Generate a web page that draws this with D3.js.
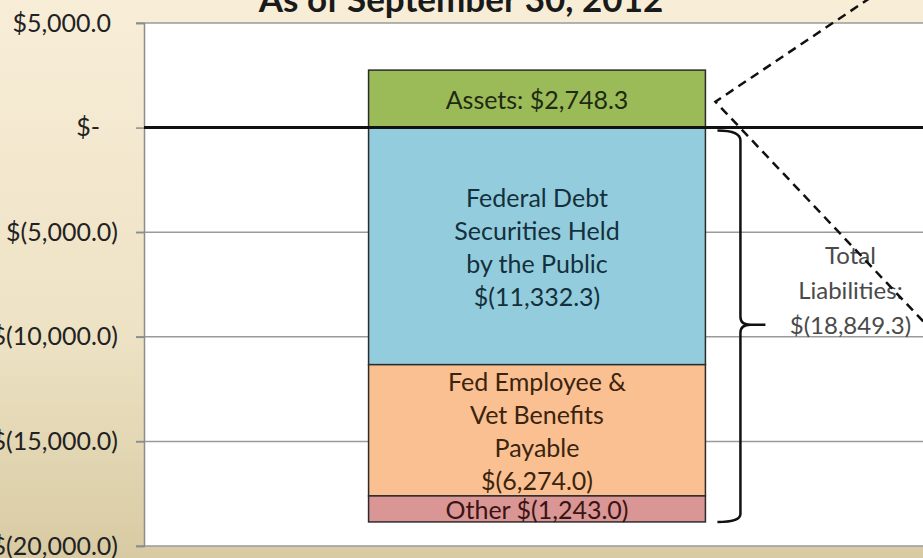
<!DOCTYPE html>
<html lang="en">
  <head>
    <meta charset="UTF-8" />
    <title>Balance Sheet</title>
    <script src="https://d3js.org/d3.v7.min.js"></script>
    <style>
      body {
        margin: 0;
        background-color: #ffffff;
        font-family: "Lato", sans-serif;
      }
    </style>
  </head>
  <body>
    <div id="my_dataviz"></div>
    <script>
      // data (billions of dollars, as of September 30, 2012)
      var segments = ["Assets", "Federal Debt", "Employee & Veteran Benefits", "Other"];
      var values = [2748.3, -11332.3, -6274.0, -1243.0];
      var labels = [
        ["Assets: $2,748.3"],
        ["Federal Debt", "Securities Held", "by the Public", "$(11,332.3)"],
        ["Fed Employee &", "Vet Benefits", "Payable", "$(6,274.0)"],
        ["Other $(1,243.0)"]
      ];
      var colors = ["#9bbb59", "#93cddd", "#fac091", "#d99694"];
      var textColors = ["#1f2a12", "#14303c", "#3a2410", "#3a1414"];
      var yTicks = [5000, 0, -5000, -10000, -15000, -20000];
      var totalLabel = ["Total", "Liabilities:", "$(18,849.3)"];

      var W = 923, H = 558;
      var margin = { top: 23, left: 144, bottom: 12 };

      var svg = d3.select("#my_dataviz").append("svg")
        .attr("width", W).attr("height", H);

      // beige background gradient
      var defs = svg.append("defs");
      var grad = defs.append("linearGradient").attr("id", "bg")
        .attr("x1", 0).attr("y1", 0).attr("x2", 0).attr("y2", 1);
      grad.append("stop").attr("offset", "0%").attr("stop-color", "#f8eed8");
      grad.append("stop").attr("offset", "60%").attr("stop-color", "#ede2c4");
      grad.append("stop").attr("offset", "100%").attr("stop-color", "#d8cba3");
      svg.append("rect").attr("width", W).attr("height", H).attr("fill", "url(#bg)");

      var y = d3.scaleLinear().domain([5000, -20000]).range([margin.top, H - margin.bottom]);
      var x = d3.scaleBand().domain(["FY2012"]).range([margin.left, 930]).padding(0.4);

      // plot area
      svg.append("rect")
        .attr("x", margin.left).attr("y", y(5000))
        .attr("width", W - margin.left + 10).attr("height", y(-20000) - y(5000))
        .attr("fill", "#ffffff");

      // grid lines
      svg.append("g").selectAll("line")
        .data(yTicks)
        .enter().append("line")
        .attr("x1", margin.left - 8).attr("x2", W)
        .attr("y1", function (d) { return y(d); })
        .attr("y2", function (d) { return y(d); })
        .attr("stroke", function (d) { return d === 0 ? "none" : "#9a9a9a"; })
        .attr("stroke-width", 1.5);

      // y axis
      var yAxis = svg.append("g")
        .attr("transform", "translate(" + margin.left + ",0)")
        .call(d3.axisLeft(y).tickValues(yTicks).tickSize(8).tickPadding(18)
          .tickFormat(function (d) {
            if (d === 0) return "$-";
            var s = d3.format(",.1f")(Math.abs(d));
            return d < 0 ? "$(" + s + ")" : "$" + s;
          }));
      yAxis.select(".domain").attr("stroke", "#8c8c8c").attr("stroke-width", 1.5);
      yAxis.selectAll(".tick line").attr("stroke", "#8c8c8c").attr("stroke-width", 1.5);
      yAxis.selectAll(".tick text")
        .attr("font-family", "Lato, sans-serif")
        .attr("font-size", 25)
        .attr("fill", "#222")
        .attr("dx", function (d) { return d === 0 ? -18 : (d > 0 ? -7 : 0); });

      // stacked segments
      var stack = [];
      var pos = 0, neg = 0;
      values.forEach(function (v, i) {
        if (v >= 0) { stack.push({ i: i, y0: pos, y1: pos + v }); pos += v; }
        else { stack.push({ i: i, y0: neg, y1: neg + v }); neg += v; }
      });

      var bars = svg.append("g");
      bars.selectAll("rect")
        .data(stack)
        .enter().append("rect")
        .attr("x", x("FY2012"))
        .attr("width", x.bandwidth())
        .attr("y", function (d) { return y(Math.max(d.y0, d.y1)); })
        .attr("height", function (d) { return Math.abs(y(d.y0) - y(d.y1)); })
        .attr("fill", function (d) { return colors[d.i]; })
        .attr("stroke", "#2b2b2b")
        .attr("stroke-width", 1.5);

      // zero line
      svg.append("line")
        .attr("x1", margin.left).attr("x2", W)
        .attr("y1", y(0)).attr("y2", y(0))
        .attr("stroke", "#111").attr("stroke-width", 3);

      // segment labels
      var lh = 33;
      stack.forEach(function (d) {
        var lines = labels[d.i];
        var cy = y((d.y0 + d.y1) / 2);
        var t = svg.append("text")
          .attr("text-anchor", "middle")
          .attr("font-family", "Lato, sans-serif")
          .attr("font-size", 25)
          .attr("fill", textColors[d.i]);
        lines.forEach(function (l, k) {
          t.append("tspan")
            .attr("x", x("FY2012") + x.bandwidth() / 2)
            .attr("y", cy + (k - (lines.length - 1) / 2) * lh)
            .attr("dominant-baseline", "central")
            .text(l);
        });
      });

      // brace for total liabilities
      var bx = x("FY2012") + x.bandwidth();
      var bTop = y(0) + 3, bBot = y(neg), bMid = (y(0) + y(neg)) / 2;
      var brace = "M" + (bx + 12) + "," + bTop +
        " Q" + (bx + 35) + "," + bTop + " " + (bx + 35) + "," + (bTop + 10) +
        " L" + (bx + 35) + "," + (bMid - 8) +
        " Q" + (bx + 35) + "," + bMid + " " + (bx + 45) + "," + bMid +
        " L" + (bx + 60) + "," + bMid +
        " M" + (bx + 45) + "," + bMid +
        " Q" + (bx + 35) + "," + bMid + " " + (bx + 35) + "," + (bMid + 8) +
        " L" + (bx + 35) + "," + (bBot - 8) +
        " Q" + (bx + 35) + "," + bBot + " " + (bx + 12) + "," + bBot;
      svg.append("path").attr("d", brace)
        .attr("fill", "none").attr("stroke", "#111").attr("stroke-width", 2.5);

      var tl = svg.append("text")
        .attr("text-anchor", "middle")
        .attr("font-family", "Lato, sans-serif")
        .attr("font-size", 24)
        .attr("fill", "#4a4a4a");
      totalLabel.forEach(function (l, k) {
        tl.append("tspan")
          .attr("x", bx + 145)
          .attr("y", bMid + (k - 2) * 35)
          .attr("dominant-baseline", "central")
          .text(l);
      });

      // dashed callout lines
      var ax = bx + 10, ay = y(values[0] * 0.45);
      svg.append("path")
        .attr("d", "M" + (ax + 155) + "," + (ay - 104) + " L" + ax + "," + ay + " L" + (ax + 210) + "," + (ay + 222))
        .attr("fill", "none").attr("stroke", "#111")
        .attr("stroke-width", 2.5).attr("stroke-dasharray", "9,6");

      // title (cut off at the top)
      svg.append("text")
        .attr("x", 461).attr("y", 12)
        .attr("text-anchor", "middle")
        .attr("font-family", "Lato, sans-serif")
        .attr("font-weight", 700)
        .attr("font-size", 35)
        .attr("fill", "#1a1a1a")
        .text("As of September 30, 2012");
    </script>
  </body>
</html>
